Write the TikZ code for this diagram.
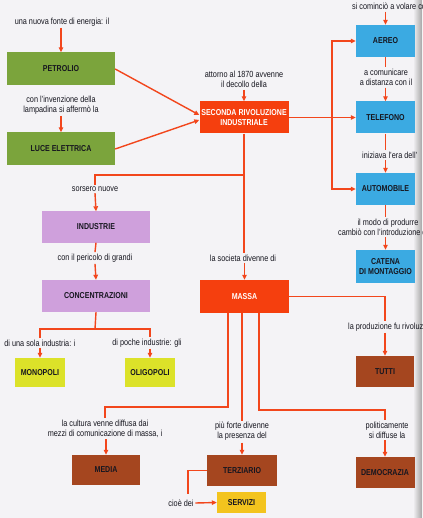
\documentclass[tikz,border=0pt]{standalone}
\usepackage{fontspec}
\setmainfont[FakeStretch=0.82]{Liberation Sans}
\usetikzlibrary{arrows.meta,calc}
\definecolor{bg}{HTML}{F4F3F6}
\definecolor{cline}{HTML}{F2461C}
\definecolor{txt}{HTML}{16161F}
\definecolor{cgreen}{HTML}{7BA43C}
\definecolor{cred}{HTML}{F53F0E}
\definecolor{cblue}{HTML}{3BAAE2}
\definecolor{cpurple}{HTML}{CFA0DC}
\definecolor{cyell}{HTML}{DCE229}
\definecolor{cbrown}{HTML}{A5461F}
\definecolor{cserv}{HTML}{F3C41E}
\tikzset{
  box/.style={inner sep=0pt, align=center, text=txt,
    font=\bfseries\fontsize{8.6}{9.6}\selectfont},
  gbox/.style={box, fill=cgreen, minimum width=108, minimum height=33},
  rbox/.style={box, fill=cred, text=white, minimum width=89, minimum height=32},
  bbox/.style={box, fill=cblue, minimum width=59, minimum height=32},
  pbox/.style={box, fill=cpurple, minimum width=108, minimum height=31},
  ybox/.style={box, fill=cyell, minimum width=50, minimum height=29},
  nbox/.style={box, fill=cbrown, minimum width=#1, minimum height=31},
  lbl/.style={inner sep=1.5pt, align=center, text=txt,
    font=\fontsize{8.9}{10.2}\selectfont},
  conn/.style={draw=cline, line width=1.4pt},
  arr/.style={conn, -{Triangle[length=5pt,width=4.5pt]}}
}
\begin{document}
\begin{tikzpicture}[x=1pt,y=-1pt]
\useasboundingbox (0,0) rectangle (422,518);
\clip (0,0) rectangle (422,518);
\fill[bg] (0,0) rectangle (422,518);
\shade[left color=bg, right color=black!35] (413,0) rectangle (422,518);

% boxes
\node[gbox] (petrolio) at (61,69) {PETROLIO};
\node[gbox] (luce) at (61,149) {LUCE ELETTRICA};
\node[rbox] (seconda) at (244,117.5) {SECONDA RIVOLUZIONE\\INDUSTRIALE};
\node[bbox] (aereo) at (385.5,41) {AEREO};
\node[bbox] (telefono) at (385.5,117.5) {TELEFONO};
\node[bbox] (automobile) at (385.5,189) {AUTOMOBILE};
\node[bbox, minimum height=33] (catena) at (385.5,266.5) {CATENA\\DI MONTAGGIO};
\node[pbox] (industrie) at (96,227) {INDUSTRIE};
\node[pbox, minimum height=32] (concentrazioni) at (96,296) {CONCENTRAZIONI};
\node[rbox, minimum height=33] (massa) at (244.5,296.5) {MASSA};
\node[ybox] (monopoli) at (40,372.5) {MONOPOLI};
\node[ybox] (oligopoli) at (150,372.5) {OLIGOPOLI};
\node[nbox=58] (tutti) at (385,371.5) {TUTTI};
\node[nbox=68, minimum height=30] (media) at (106,470) {MEDIA};
\node[nbox=70, minimum height=31] (terziario) at (242,470.5) {TERZIARIO};
\node[nbox=59] (democrazia) at (385,472.5) {DEMOCRAZIA};
\node[box, fill=cserv, minimum width=49, minimum height=21] (servizi) at (241.5,502.5) {SERVIZI};

% labels
\node[lbl] (t1) at (62,22) {una nuova fonte di energia: il};
\node[lbl] (t2) at (61,105) {con l'invenzione della\\lampadina si affermò la};
\node[lbl] (t3) at (244,79.5) {attorno al 1870 avvenne\\il decollo della};
\node[lbl, anchor=west] (t4) at (350.5,6.5) {si cominciò a volare con};
\node[lbl] (t5) at (386,77.5) {a comunicare\\a distanza con il};
\node[lbl, anchor=west] (t6) at (360.5,155) {iniziava l'era dell'};
\node[lbl] (t7) at (388,227) {il modo di produrre\\cambiò con l'introduzione della};
\node[lbl] (t8) at (95,189) {sorsero nuove};
\node[lbl] (t9) at (243,258) {la societa divenne di};
\node[lbl] (t10) at (95,258) {con il pericolo di grandi};
\node[lbl] (t11) at (40,343) {di una sola industria: i};
\node[lbl] (t12) at (147,343) {di poche industrie: gli};
\node[lbl, anchor=west] (t13) at (346.5,327) {la produzione fu rivoluzionata};
\node[lbl] (t14) at (105,428.5) {la cultura venne diffusa dai\\mezzi di comunicazione di massa, i};
\node[lbl] (t15) at (242,431.5) {più forte divenne\\la presenza del};
\node[lbl] (t16) at (387,430) {politicamente\\si diffuse la};
\node[lbl] (t17) at (181,503) {cioè dei};

% junctions
\coordinate (jr) at (332,117.5);
\coordinate (js) at (244,175);
\coordinate (jc) at (95,329);
\coordinate (jm1) at (228,407);
\coordinate (jm3) at (259,410);
\coordinate (jt) at (188,494);

% connectors - top left
\draw[arr] (petrolio.north |- t1.south) -- (petrolio.north);
\draw[arr] (luce.north |- t2.south) -- (luce.north);
\draw[arr] (petrolio.east) -- ($(seconda.west)+(0,-2.5)$);
\draw[arr] (luce.east) -- ($(seconda.west)+(0,2.5)$);
\draw[arr] (seconda.north |- t3.south) -- (seconda.north);

% right column
\draw[arr] (seconda.east) -- (telefono.west);
\draw[arr] (jr) |- (aereo.west);
\draw[arr] (jr) |- (automobile.west);
\draw[arr] (aereo.north |- t4.south) -- (aereo.north);
\draw[conn] (aereo.south) -- (aereo.south |- t5.north);
\draw[arr] (telefono.north |- t5.south) -- (telefono.north);
\draw[conn] (telefono.south) -- (telefono.south |- t6.north);
\draw[arr] (automobile.north |- t6.south) -- (automobile.north);
\draw[conn] (automobile.south) -- (automobile.south |- t7.north);
\draw[arr] (catena.north |- t7.south) -- (catena.north);

% center column
\draw[conn] (seconda.south) -- (seconda.south |- t9.north);
\draw[conn] (js) -| (t8.north);
\draw[arr] (t8.south) -- (industrie.north);
\draw[arr] (massa.north |- t9.south) -- (massa.north);
\draw[conn] (industrie.south) -- (t10.north);
\draw[arr] (t10.south) -- (concentrazioni.north);
\draw[conn] (concentrazioni.south) -- (jc);
\draw[conn] (monopoli.north |- t11.north) |- (jc) -| (oligopoli.north |- t12.north);
\draw[arr] (monopoli.north |- t11.south) -- (monopoli.north);
\draw[arr] (oligopoli.north |- t12.south) -- (oligopoli.north);

% massa branches
\draw[conn] (massa.east) -| (tutti.north |- t13.north);
\draw[arr] (tutti.north |- t13.south) -- (tutti.north);
\draw[conn] (massa.south -| jm1) -- (jm1) -| (t14.north);
\draw[arr] (media.north |- t14.south) -- (media.north);
\draw[conn] (massa.south -| t15.north) -- (t15.north);
\draw[arr] (terziario.north |- t15.south) -- (terziario.north);
\draw[conn] (massa.south -| jm3) -- (jm3) -| (democrazia.north |- t16.north);
\draw[arr] (democrazia.north |- t16.south) -- (democrazia.north);
\draw[conn] (terziario.west) -| (jt);
\draw[arr] (t17.east) -- (servizi.west);
\end{tikzpicture}
\end{document}
